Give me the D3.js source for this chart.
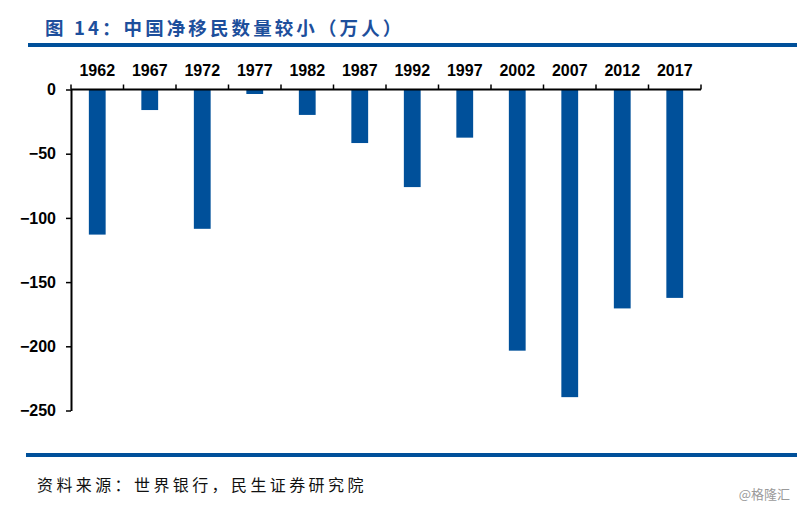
<!DOCTYPE html>
<html>
<head>
<meta charset="utf-8">
<script src="https://cdn.jsdelivr.net/npm/d3@7"></script>
<style>
body { margin: 0; background: #fff; }
svg { display: block; }
</style>
</head>
<body>
<svg width="797" height="508"></svg>
<script>
// 年份与净移民（万人）
var years = ["1962","1967","1972","1977","1982","1987","1992","1997","2002","2007","2012","2017"];
var migrants = [-113, -16, -108.5, -3.5, -19.8, -41.7, -76, -37.5, -203.4, -239.6, -170.5, -162.3];
var yTicks = [0, -50, -100, -150, -200, -250];

var svg = d3.select("svg"),
  width = +svg.attr("width"),
  height = +svg.attr("height");

var blue = "#00509A";
var left = 71, right = 701, top0 = 89.5, bottom0 = 410.5;

var x = d3.scaleBand().domain(years).range([left, right]).paddingInner(0.68).paddingOuter(0.34);
var y = d3.scaleLinear().domain([0, -250]).range([top0, bottom0]);

// 标题
svg.append("text").attr("x", 45).attr("y", 35)
  .attr("font-family", "'Noto Sans CJK SC', sans-serif").attr("font-weight", "bold")
  .attr("font-size", 18.5).attr("fill", "#1D4F9C").attr("letter-spacing", 3.1)
  .text("图 14：中国净移民数量较小（万人）");
svg.append("rect").attr("x", 28).attr("y", 43).attr("width", width - 28).attr("height", 4).attr("fill", blue);

// 柱子
svg.selectAll(".bar").data(migrants).enter().append("rect")
  .attr("class", "bar")
  .attr("x", function(d, i) { return x(years[i]); })
  .attr("y", y(0))
  .attr("width", x.bandwidth())
  .attr("height", function(d) { return y(d) - y(0); })
  .attr("fill", blue);

// x轴在顶部
var xAxis = d3.axisTop(x).tickSize(0).tickPadding(14);
var gx = svg.append("g").attr("transform", "translate(0," + top0 + ")").call(xAxis);
gx.select(".domain").attr("stroke", "#000").attr("stroke-width", 2).attr("d", "M" + left + ",0H" + right);
gx.selectAll("text").attr("font-family", "Arial, 'Liberation Sans', sans-serif")
  .attr("font-weight", "bold").attr("font-size", 16).attr("fill", "#000");
var edges = d3.range(years.length + 1).map(function(i) { return left + i * (right - left) / years.length; });
gx.selectAll(".edge").data(edges).enter().append("line")
  .attr("x1", function(d) { return d; }).attr("x2", function(d) { return d; })
  .attr("y1", 0).attr("y2", -5).attr("stroke", "#000").attr("stroke-width", 1.5);

// y轴
var yAxis = d3.axisLeft(y).tickValues(yTicks).tickSize(5).tickSizeOuter(0).tickPadding(10);
var gy = svg.append("g").attr("transform", "translate(" + left + ",0)").call(yAxis);
gy.select(".domain").attr("stroke", "#000").attr("stroke-width", 2);
gy.selectAll(".tick line").attr("stroke", "#000").attr("stroke-width", 1.5);
gy.selectAll("text").attr("font-family", "Arial, 'Liberation Sans', sans-serif")
  .attr("font-weight", "bold").attr("font-size", 16).attr("fill", "#000");

// 底部
svg.append("rect").attr("x", 26).attr("y", 453).attr("width", width - 26).attr("height", 4).attr("fill", blue);
svg.append("text").attr("x", 37).attr("y", 491)
  .attr("font-family", "'Noto Sans CJK SC', sans-serif").attr("font-size", 16)
  .attr("letter-spacing", 3.4).attr("fill", "#111")
  .text("资料来源：世界银行，民生证券研究院");
svg.append("text").attr("x", 790).attr("y", 499).attr("text-anchor", "end")
  .attr("font-family", "'Noto Sans CJK SC', sans-serif").attr("font-size", 13)
  .attr("fill", "#9a9a9a")
  .text("@格隆汇");
</script>
</body>
</html>
